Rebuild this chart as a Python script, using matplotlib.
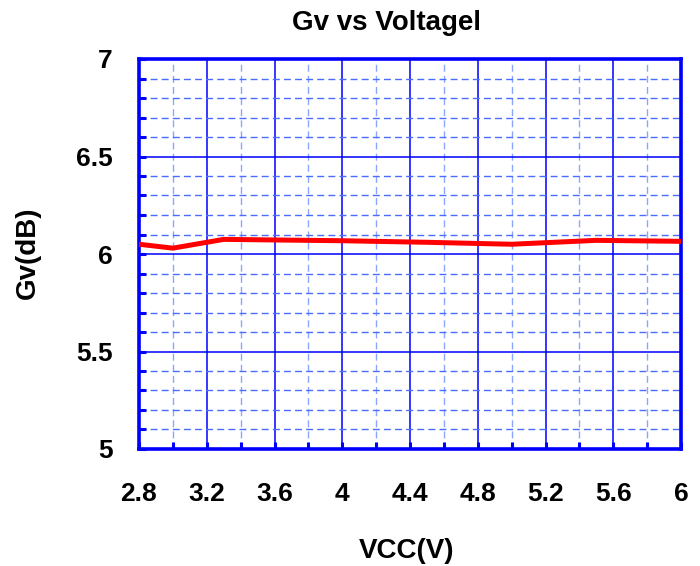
import matplotlib
matplotlib.use("Agg")
import matplotlib.pyplot as plt
from matplotlib.ticker import MultipleLocator

# Gv vs supply voltage
vcc = [2.8, 3.0, 3.3, 3.6, 4.0, 4.5, 5.0, 5.5, 6.0]
gv = [6.05, 6.03, 6.075, 6.072, 6.068, 6.06, 6.05, 6.07, 6.065]

x_ticks = [2.8, 3.2, 3.6, 4.0, 4.4, 4.8, 5.2, 5.6, 6.0]
x_ticklabels = ["2.8", "3.2", "3.6", "4", "4.4", "4.8", "5.2", "5.6", "6"]
y_ticks = [5, 5.5, 6, 6.5, 7]
y_ticklabels = ["5", "5.5", "6", "6.5", "7"]

plt.rcParams["font.family"] = ["Liberation Sans", "DejaVu Sans"]
plt.rcParams["font.weight"] = "bold"

fig = plt.figure(figsize=(7, 5.66), dpi=100)
ax = fig.add_axes([139 / 700, 1 - 449 / 566, 542 / 700, 390 / 566])

ax.plot(vcc, gv, color="#ff0000", lw=3.6, zorder=5)

ax.set_xlim(2.8, 6.0)
ax.set_ylim(5, 7)
ax.set_xticks(x_ticks)
ax.set_xticklabels(x_ticklabels)
ax.set_yticks(y_ticks)
ax.set_yticklabels(y_ticklabels)
ax.xaxis.set_minor_locator(MultipleLocator(0.2))
ax.yaxis.set_minor_locator(MultipleLocator(0.1))

ax.grid(which="major", color="#0000ff", lw=1.1, ls="-")
ax.xaxis.grid(which="minor", color="#8aa6ff", lw=1.0, ls=(0, (5, 3)))
ax.yaxis.grid(which="minor", color="#4a6cff", lw=1.0, ls=(0, (5, 3)))

for s in ax.spines.values():
    s.set_color("#0000ff")
    s.set_linewidth(2.6)

ax.tick_params(axis="both", which="both", direction="in", color="#0000ff",
               width=2.2, length=5, top=False, right=False)
ax.tick_params(axis="x", which="major", pad=24, labelsize=19)
ax.tick_params(axis="y", which="major", pad=19, labelsize=19)

for lbl in ax.get_xticklabels() + ax.get_yticklabels():
    lbl.set_fontweight("bold")

fig.text(387 / 700, 1 - 30 / 566, "Gv vs Voltagel", ha="center", va="baseline",
         fontsize=20, fontweight="bold")
fig.text(407 / 700, 1 - 558 / 566, "VCC(V)", ha="center", va="baseline",
         fontsize=20, fontweight="bold")
fig.text(28 / 700, 1 - 253 / 566, "Gv(dB)", ha="center", va="center",
         rotation=90, fontsize=20, fontweight="bold")

fig.savefig("out.png", dpi=100)
